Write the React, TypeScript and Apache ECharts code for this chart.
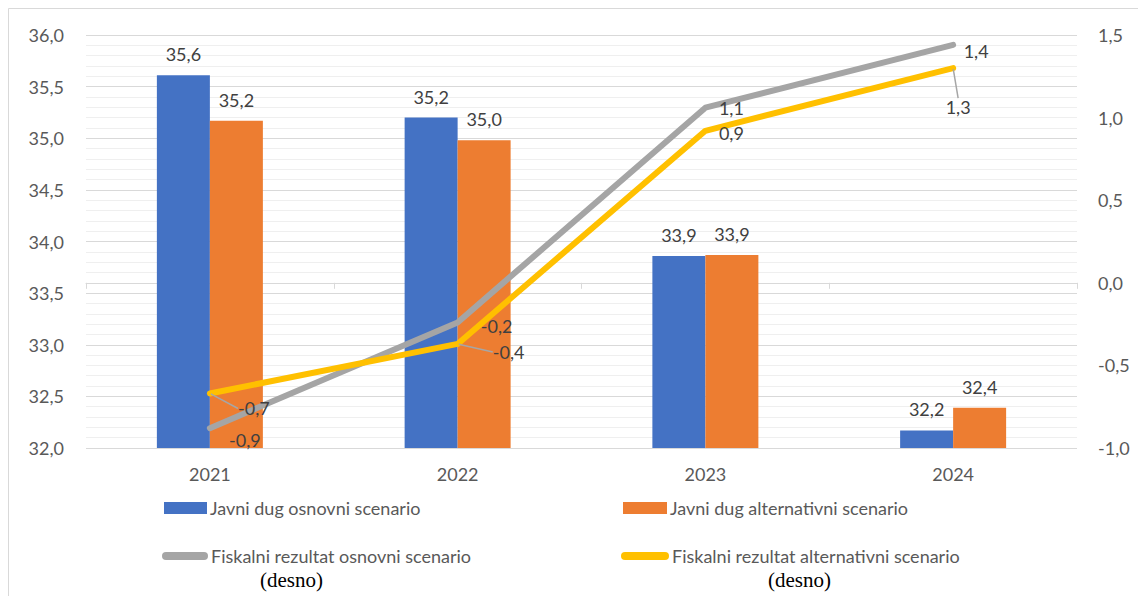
import React, { useEffect, useRef } from "react";
import * as echarts from "echarts";

const categories = ["2021", "2022", "2023", "2024"];
const dugOsnovni = [35.61, 35.2, 33.86, 32.17];
const dugAlternativni = [35.17, 34.98, 33.87, 32.39];
const fiskOsnovni = [-0.88, -0.24, 1.06, 1.44];
const fiskAlternativni = [-0.67, -0.37, 0.92, 1.3];
const names = [
  "Javni dug osnovni scenario",
  "Javni dug alternativni scenario",
  "Fiskalni rezultat osnovni scenario",
  "Fiskalni rezultat alternativni scenario",
];
// label offsets for line points [dx, dy] and whether a leader line is drawn
const osnovniLabelOffsets = [[35, 12], [39, 4], [26, 0], [23, 6]];
const alternativniLabelOffsets = [[44, 15], [51, 8], [26, 2], [5, 39]];
const alternativniLeader = [true, true, false, true];

const FONT = "Lato, 'Noto Sans', sans-serif";
const fmt = (v: number) => v.toFixed(1).replace(".", ",");

export default function App() {
  const ref = useRef<HTMLDivElement>(null);
  useEffect(() => {
    if (!ref.current) return;
    const chart = echarts.init(ref.current, undefined, { renderer: "svg" });
    const labelStyle = { fontFamily: FONT, fontSize: 18, color: "#404040" };
    const legendText = { fontFamily: FONT, fontSize: 18, color: "#595959", lineHeight: 18, padding: [0, 0, 0, -2] };
    chart.setOption({
      animation: false,
      backgroundColor: "#ffffff",
      grid: { left: 86, right: 61, top: 35, bottom: 148, containLabel: false },
      xAxis: {
        type: "category",
        data: categories,
        axisLine: { lineStyle: { color: "#d9d9d9", width: 1 } },
        axisTick: { show: true, length: 6, lineStyle: { color: "#d9d9d9" } },
        axisLabel: { fontFamily: FONT, fontSize: 18, color: "#595959", margin: 17 },
      },
      yAxis: [
        {
          type: "value",
          min: 32,
          max: 36,
          interval: 0.5,
          axisLine: { show: false },
          axisTick: { show: false },
          axisLabel: { fontFamily: FONT, fontSize: 18, color: "#595959", margin: 22, formatter: fmt },
          splitLine: { lineStyle: { color: "#d9d9d9" } },
          minorTick: { show: false, splitNumber: 5 },
          minorSplitLine: { show: true, lineStyle: { color: "#efefef" } },
        },
        {
          type: "value",
          min: -1,
          max: 1.5,
          interval: 0.5,
          position: "right",
          axisLine: { show: false },
          axisTick: { show: false },
          splitLine: { show: false },
          axisLabel: { fontFamily: FONT, fontSize: 18, color: "#595959", margin: 21, formatter: fmt },
        },
      ],
      legend: [
        { data: [names[0]], left: 159, top: 494, itemWidth: 43, itemHeight: 12, icon: "rect", textStyle: legendText },
        { data: [names[1]], left: 618, top: 494, itemWidth: 44, itemHeight: 12, icon: "rect", textStyle: legendText },
        {
          data: [names[2]], left: 157, top: 542, itemWidth: 46, itemHeight: 8,
          icon: "path://M4,0 L42,0 A4,4 0 0 1 42,8 L4,8 A4,4 0 0 1 4,0 Z", textStyle: legendText,
        },
        {
          data: [names[3]], left: 616, top: 542, itemWidth: 48, itemHeight: 8,
          icon: "path://M4,0 L44,0 A4,4 0 0 1 44,8 L4,8 A4,4 0 0 1 4,0 Z", textStyle: legendText,
        },
      ],
      series: [
        {
          name: names[0], type: "bar", data: dugOsnovni, barWidth: 53, barGap: "0%",
          itemStyle: { color: "#4472C4" },
          label: { show: true, position: "top", distance: 12, formatter: (p: any) => fmt(p.value), ...labelStyle },
        },
        {
          name: names[1], type: "bar", data: dugAlternativni, barWidth: 53, barGap: "0%",
          itemStyle: { color: "#ED7D31" },
          label: { show: true, position: "top", distance: 12, formatter: (p: any) => fmt(p.value), ...labelStyle },
        },
        {
          name: names[2], type: "line", yAxisIndex: 1, z: 5,
          data: fiskOsnovni.map((v, i) => ({ value: v, label: { offset: osnovniLabelOffsets[i] } })),
          symbol: "circle", symbolSize: 2, showSymbol: true,
          itemStyle: { color: "#A5A5A5" },
          lineStyle: { color: "#A5A5A5", width: 6, cap: "round", join: "round" },
          label: { show: true, position: "inside", formatter: (p: any) => fmt(p.value), ...labelStyle },
        },
        {
          name: names[3], type: "line", yAxisIndex: 1, z: 6,
          data: fiskAlternativni.map((v, i) => ({ value: v, labelLine: { show: alternativniLeader[i] } })),
          symbol: "circle", symbolSize: 2, showSymbol: true,
          itemStyle: { color: "#FFC000" },
          lineStyle: { color: "#FFC000", width: 6, cap: "round", join: "round" },
          label: { show: true, position: "inside", formatter: (p: any) => fmt(p.value), ...labelStyle },
          labelLine: { show: true, lineStyle: { color: "#a6a6a6", width: 1.5 } },
          labelLayout: (p: any) => {
            const i = p.dataIndex;
            return { dx: alternativniLabelOffsets[i][0], dy: alternativniLabelOffsets[i][1] };
          },
        },
      ],
      graphic: [
        {
          type: "rect", shape: { x: 8.5, y: 8.5, width: 1200, height: 700 },
          style: { fill: "none", stroke: "#d9d9d9", lineWidth: 1 }, silent: true,
        },
        {
          type: "text", left: 260, top: 569,
          style: { text: "(desno)", font: "21px 'Liberation Serif', 'Times New Roman', serif", fill: "#000000" },
        },
        {
          type: "text", left: 768, top: 569,
          style: { text: "(desno)", font: "21px 'Liberation Serif', 'Times New Roman', serif", fill: "#000000" },
        },
      ],
    });
    return () => chart.dispose();
  }, []);
  return (
    <div
      ref={ref}
      style={{ position: "absolute", left: 0, top: 0, width: 1138, height: 596 }}
    />
  );
}
